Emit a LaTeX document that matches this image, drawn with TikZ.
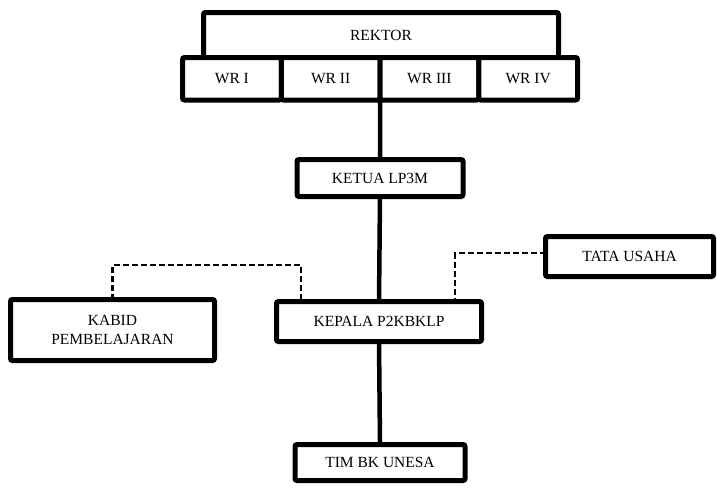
\documentclass[tikz,border=0pt]{standalone}
\usepackage{fontspec}
\setmainfont{Liberation Serif}
\usetikzlibrary{positioning}

\tikzset{
  unitbox/.style={draw, line width=5pt, rounded corners=2pt, fill=white,
    inner sep=0pt, outer sep=0pt, align=center},
  wrbox/.style={unitbox, minimum width=98.75pt, minimum height=42.5pt},
  link/.style={line width=4.5pt},
  dashlink/.style={line width=2.6pt, dash pattern=on 6pt off 3pt}
}

\begin{document}
\begin{tikzpicture}[x=1pt, y=-1pt, font=\fontsize{15.5}{19}\selectfont]
  \useasboundingbox (0,0) rectangle (717,493);

  % rektor and the four wakil rektor
  \node[unitbox, minimum width=355pt, minimum height=45pt] (rektor) at (381,35) {REKTOR};
  \node[wrbox] (wr1) at (231.9,78.75) {WR I};
  \node[wrbox, right=0pt of wr1] (wr2) {WR II};
  \node[wrbox, right=0pt of wr2] (wr3) {WR III};
  \node[wrbox, right=0pt of wr3] (wr4) {WR IV};

  % main line
  \node[unitbox, minimum width=166pt, minimum height=37pt] (ketua) at (380,178) {KETUA LP3M};
  \node[unitbox, minimum width=205pt, minimum height=40pt] (kepala) at (379,321.5) {KEPALA P2KBKLP};
  \node[unitbox, minimum width=170pt, minimum height=36pt] (tim) at (380,462.5) {TIM BK UNESA};

  % side units
  \node[unitbox, minimum width=204pt, minimum height=61pt] (kabid) at (112.5,330) {KABID\\PEMBELAJARAN};
  \node[unitbox, minimum width=168pt, minimum height=40pt] (tata) at (629.5,256.5) {TATA USAHA};

  \coordinate (kabidjoin) at (301,265);
  \coordinate (tatajoin) at (455,253);

  \draw[link] (wr2.south east) -- (ketua.north);
  \draw[link] (ketua.south) -- (kepala.north);
  \draw[link] (kepala.south) -- (tim.north);

  \draw[dashlink] (kabid.north) |- (kabidjoin) -- (kabidjoin |- kepala.north);
  \draw[dashlink] (tata.west |- tatajoin) -- (tatajoin) -- (tatajoin |- kepala.north);
\end{tikzpicture}
\end{document}
